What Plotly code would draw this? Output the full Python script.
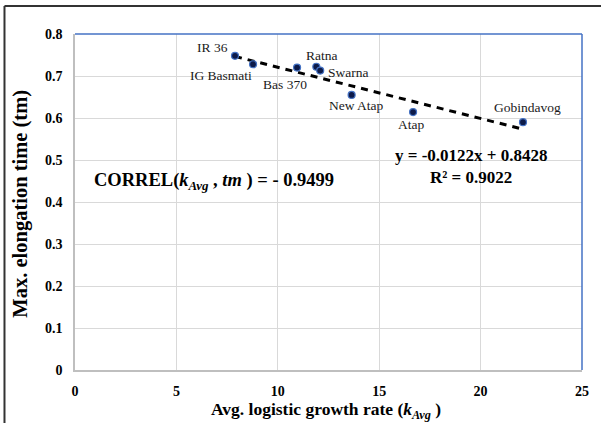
import plotly.graph_objects as go

# ---- data ----
varieties = ["IR 36", "IG Basmati", "Bas 370", "Ratna", "Swarna", "New Atap", "Atap", "Gobindavog"]
k_avg = [7.89, 8.78, 10.95, 11.90, 12.09, 13.64, 16.67, 22.09]
tm = [0.748, 0.728, 0.720, 0.722, 0.713, 0.655, 0.614, 0.590]
slope = -0.0122
intercept = 0.8428
r2 = 0.9022
correl = -0.9499
x_ticks = [0, 5, 10, 15, 20, 25]
y_ticks = [0, 0.1, 0.2, 0.3, 0.4, 0.5, 0.6, 0.7, 0.8]

# label offsets (pixels) relative to each point
label_offsets = {
    "IR 36": (-23, 8), "IG Basmati": (-32, -11), "Bas 370": (-12, -17),
    "Ratna": (6, 11), "Swarna": (28, -2), "New Atap": (5, -11),
    "Atap": (-2, -12), "Gobindavog": (5, 15),
}

FONT = "Liberation Serif"

# pixel -> paper coordinate helper
L, R, T, B = 75, 585.5, 33.5, 370
def px2paper(px, py):
    return (px - L) / (R - L), (B - py) / (B - T)

fig = go.Figure()

x0, x1 = min(k_avg), max(k_avg)
fig.add_trace(go.Scatter(
    x=[x0, x1], y=[slope * x0 + intercept, slope * x1 + intercept],
    mode="lines", line=dict(color="black", width=3, dash="7px,6px"),
    hoverinfo="skip", showlegend=False))

fig.add_trace(go.Scatter(
    x=k_avg, y=tm, mode="markers",
    marker=dict(size=7, color="#0d1b4a", line=dict(color="#4472c4", width=1.2)),
    showlegend=False))

annotations = []
for name, xv, yv in zip(varieties, k_avg, tm):
    dx, dy = label_offsets[name]
    annotations.append(dict(x=xv, y=yv, xref="x", yref="y", text=name, showarrow=False,
                            xanchor="center", yanchor="middle",
                            xshift=dx, yshift=dy, font=dict(family=FONT, size=13.5, color="#1a1a1a")))

def paper_text(text, px, py, size, angle=0):
    x, y = px2paper(px, py)
    return dict(x=x, y=y, xref="paper", yref="paper", showarrow=False, text=text,
                xanchor="center", yanchor="middle", textangle=angle,
                font=dict(family=FONT, size=size, color="black"))

annotations.append(paper_text(
    "<b>CORREL(<i>k</i><sub><i>Avg</i></sub> , <i>tm</i> ) = - " + f"{abs(correl):.4f}</b>",
    215, 181, 18.5))
annotations.append(paper_text(f"<b>y = {slope:.4f}x + {intercept:.4f}</b>", 474, 155, 17))
annotations.append(paper_text(f"<b>R² = {r2:.4f}</b>", 474, 177, 17))
annotations.append(paper_text(
    "<b>Avg. logistic growth rate (<i>k</i><sub><i>Avg</i></sub> )</b>", 328, 411, 17.5))
annotations.append(paper_text("<b>Max. elongation time (tm)</b>", 20, 203, 20.5, angle=-90))

shapes = []
# blue top/right plot border
shapes.append(dict(type="line", xref="paper", yref="paper", x0=0, x1=1, y0=1, y1=1,
                   line=dict(color="#4472c4", width=1.5)))
shapes.append(dict(type="line", xref="paper", yref="paper", x0=1, x1=1, y0=0, y1=1,
                   line=dict(color="#4472c4", width=1.5)))
# outer frame (top and left)
fx, fy = px2paper(4, 5.5)
shapes.append(dict(type="line", xref="paper", yref="paper", x0=fx, x1=1.05, y0=fy, y1=fy,
                   line=dict(color="#333333", width=2)))
_, fyb = px2paper(4, 430)
shapes.append(dict(type="line", xref="paper", yref="paper", x0=fx, x1=fx, y0=fyb, y1=fy,
                   line=dict(color="#333333", width=2)))

fig.update_layout(
    width=601, height=423,
    margin=dict(l=L, r=601 - R, t=T, b=423 - B),
    paper_bgcolor="white", plot_bgcolor="white",
    annotations=annotations, shapes=shapes,
    font=dict(family=FONT, color="black"),
    xaxis=dict(range=[0, 25], tickvals=x_ticks, ticktext=[f"<b>{v}</b>" for v in x_ticks],
               showgrid=True, gridcolor="#d9d9d9", gridwidth=1,
               showline=True, linecolor="#bfbfbf", linewidth=1.5, zeroline=False,
               ticks="", ticklabelstandoff=7,
               tickfont=dict(family=FONT, size=14, color="black")),
    yaxis=dict(range=[0, 0.8], tickvals=y_ticks, ticktext=[f"<b>{v:g}</b>" for v in y_ticks],
               showgrid=True, gridcolor="#d9d9d9", gridwidth=1,
               showline=True, linecolor="#bfbfbf", linewidth=1.5, zeroline=False,
               ticks="", ticklabelstandoff=8,
               tickfont=dict(family=FONT, size=14, color="black")),
)

fig.write_html("out.html")
